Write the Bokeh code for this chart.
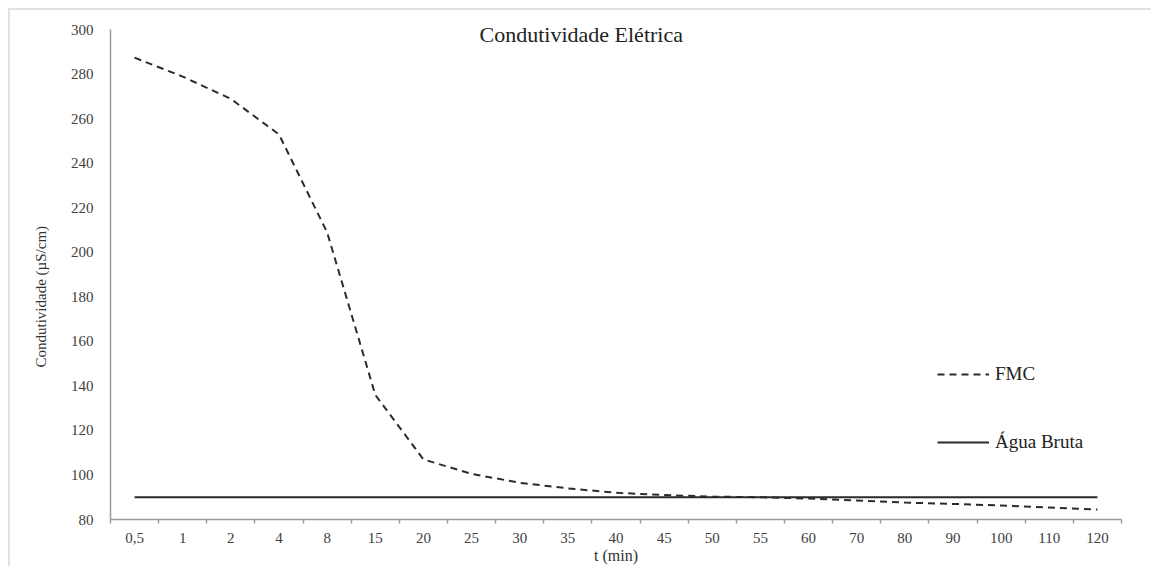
from bokeh.plotting import figure
from bokeh.models import (FactorRange, Range1d, LinearAxis, FixedTicker, CustomJSTickFormatter,
                          Legend, LegendItem, Label, Title)
from bokeh.embed import file_html
from bokeh.resources import INLINE

# ---- data ----
categories = ["0,5", "1", "2", "4", "8", "15", "20", "25", "30", "35", "40", "45", "50",
              "55", "60", "70", "80", "90", "100", "110", "120"]
fmc = [287.5, 279, 269, 253, 209, 136, 107, 100.5, 96.5, 94, 92, 91, 90.3, 90, 89.4,
       88.5, 87.6, 87, 86.3, 85.4, 84.5]
agua_bruta = [90] * len(categories)
y_ticks = [80, 100, 120, 140, 160, 180, 200, 220, 240, 260, 280, 300]
title_text = "Condutividade  Elétrica"
x_label = "t (min)"
y_label = "Condutividade (µS/cm)"

SERIF = "Liberation Serif"

p = figure(width=1143, height=558, output_backend="svg", toolbar_location=None,
           x_range=FactorRange(factors=categories, range_padding=0, factor_padding=0),
           y_range=Range1d(80, 306), x_axis_type=None,
           min_border_left=100, min_border_right=32, min_border_top=6, min_border_bottom=49)
p.margin = (8, 0, 0, 8)
p.styles = {"border-left": "2px solid #e2e2e2", "border-top": "2px solid #e2e2e2"}
p.outline_line_color = None
p.grid.visible = False
p.background_fill_color = "white"
p.border_fill_color = "white"

# x axis: labels at category centres, tick marks at category boundaries
n = len(categories)
xaxis = LinearAxis(
    ticker=FixedTicker(ticks=[i + 0.5 for i in range(n)], minor_ticks=list(range(n + 1))),
    formatter=CustomJSTickFormatter(args=dict(labels=categories),
                                    code="return labels[Math.floor(tick)];"),
)
xaxis.axis_line_color = "#9a9a9a"
xaxis.axis_line_width = 1.5
xaxis.major_tick_line_color = None
xaxis.major_tick_out = 0
xaxis.major_tick_in = 0
xaxis.minor_tick_line_color = "#9a9a9a"
xaxis.minor_tick_line_width = 1.5
xaxis.minor_tick_out = 4
xaxis.minor_tick_in = 0
xaxis.major_label_standoff = 9
xaxis.major_label_text_font = SERIF
xaxis.major_label_text_font_size = "15px"
xaxis.major_label_text_color = "#404040"
xaxis.axis_label = x_label
xaxis.axis_label_text_font = SERIF
xaxis.axis_label_text_font_size = "16px"
xaxis.axis_label_text_font_style = "normal"
xaxis.axis_label_text_color = "#333333"
xaxis.axis_label_standoff = 1
p.add_layout(xaxis, "below")

yaxis = p.yaxis[0]
yaxis.ticker = FixedTicker(ticks=y_ticks)
yaxis.bounds = (80, 300)
yaxis.axis_line_color = "#9a9a9a"
yaxis.axis_line_width = 1.5
yaxis.major_tick_line_color = None
yaxis.minor_tick_line_color = None
yaxis.major_tick_out = 0
yaxis.major_label_standoff = 17
yaxis.major_label_text_font = SERIF
yaxis.major_label_text_font_size = "15px"
yaxis.major_label_text_color = "#404040"

ytitle = Title(text=y_label, align="left", offset=152, standoff=38,
               text_font="Liberation Sans Narrow", text_font_size="15px",
               text_font_style="normal", text_color="#333333")
p.add_layout(ytitle, "left")

r_fmc = p.line(categories, fmc, line_color="#2b2b2b", line_width=2, line_dash="7 5")
r_ab = p.line(categories, agua_bruta, line_color="#2b2b2b", line_width=2)

title = Label(x=n / 2, y=298, text=title_text, x_offset=-32,
              text_font=SERIF, text_font_size="22px", text_color="#222222",
              text_align="center", text_baseline="middle")
p.add_layout(title)

legend = Legend(items=[LegendItem(label="FMC", renderers=[r_fmc]),
                       LegendItem(label="Água Bruta", renderers=[r_ab])],
                location=(827, 66), orientation="vertical")
legend.border_line_color = None
legend.background_fill_alpha = 0
legend.padding = 0
legend.margin = 0
legend.spacing = 46
legend.glyph_width = 52
legend.glyph_height = 20
legend.label_height = 20
legend.label_standoff = 6
legend.label_text_font = SERIF
legend.label_text_font_size = "19px"
legend.label_text_color = "#222222"
p.add_layout(legend, "center")

open("out.html", "w").write(file_html(p, INLINE))
